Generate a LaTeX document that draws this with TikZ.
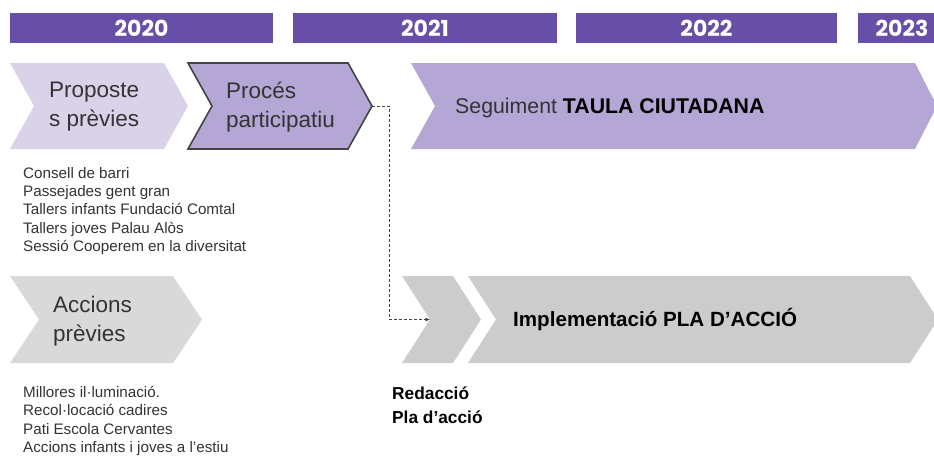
\documentclass[tikz,border=0pt]{standalone}
\usepackage{fontspec}
\setmainfont{Liberation Sans}
\newfontfamily\yearfont{Poppins}
\usepackage{tikz}
\usetikzlibrary{positioning, arrows.meta, calc}
\usepackage{xcolor}

\definecolor{barpurple}{HTML}{674EA7}
\definecolor{lightpurple}{HTML}{D9D2E9}
\definecolor{midpurple}{HTML}{B4A7D6}
\definecolor{lightgrey}{HTML}{D9D9D9}
\definecolor{midgrey}{HTML}{CCCCCC}
\definecolor{edgegrey}{HTML}{434343}
\definecolor{textgrey}{HTML}{333333}

\begin{document}
\begin{tikzpicture}[
    x=1pt, y=-1pt,
    year/.style={fill=barpurple, text=white, minimum height=30pt, inner sep=0pt,
        font=\yearfont\bfseries\fontsize{22}{22}\selectfont},
    phase/.style={anchor=west, align=left, inner sep=0pt, text=textgrey,
        font=\fontsize{22.5}{29}\selectfont},
    notes/.style={anchor=west, align=left, inner sep=0pt, text=textgrey,
        font=\fontsize{15.2}{18.3}\selectfont},
    link/.style={densely dashed, draw=edgegrey, line width=0.7pt,
        -{Latex[length=4.5pt,width=4pt]}}
]
    \useasboundingbox (0,0) rectangle (934,455);

    % Year bars on top
    \node[year, minimum width=263pt] (y2020) at (141.5,28) {2020};
    \node[year, minimum width=264pt] (y2021) at (425,28) {2021};
    \node[year, minimum width=261pt] (y2022) at (706.5,28) {2022};
    \node[year, minimum width=88pt] (y2023) at (902,28) {2023};

    % First row of chevrons
    \fill[lightpurple] (10,63) -- (164,63) -- (188,106) -- (164,149) -- (10,149) -- (34,106) -- cycle;
    \filldraw[fill=midpurple, draw=edgegrey, line width=1.6pt, line join=miter]
        (188,63) -- (348,63) -- (372,106) -- (348,149) -- (188,149) -- (212,106) -- cycle;
    \fill[midpurple] (411,63) -- (915,63) -- (937,106) -- (915,149) -- (411,149) -- (435,106) -- cycle;
    \coordinate (proc-tip) at (372,106);

    % Second row of chevrons
    \fill[lightgrey] (10,276) -- (173,276) -- (202,319.5) -- (173,363) -- (10,363) -- (39,319.5) -- cycle;
    \fill[midgrey] (402,276) -- (453,276) -- (481,319.5) -- (453,363) -- (402,363) -- (430,319.5) -- cycle;
    \fill[midgrey] (468,276) -- (910,276) -- (938,319.5) -- (910,363) -- (468,363) -- (496,319.5) -- cycle;
    \coordinate (red-notch) at (430,319.5);

    % Labels inside the chevrons
    \node[phase] (prop) at (49,107) {Proposte\\s prèvies};
    \node[phase] (proc) at (226,107) {Procés\\participatiu};
    \node[phase, font=\fontsize{21.3}{29}\selectfont] (seg) at (455,108)
        {Seguiment \textbf{\color{black}TAULA CIUTADANA}};
    \node[phase] (acc) at (53,321) {Accions\\prèvies};
    \node[phase, text=black, font=\bfseries\fontsize{20.6}{29}\selectfont] (imp) at (513,320)
        {Implementació PLA D’ACCIÓ};

    % Notes under the chevrons
    \node[notes] (notes1) at (23,211) {Consell de barri\\Passejades gent gran\\Tallers infants Fundació Comtal\\Tallers joves Palau Alòs\\Sessió Cooperem en la diversitat};
    \node[notes] (notes2) at (23,421) {Millores il·luminació.\\Recol·locació cadires\\Pati Escola Cervantes\\Accions infants i joves a l’estiu};
    \node[anchor=west, align=left, inner sep=0pt, text=black,
        font=\bfseries\fontsize{17.3}{24}\selectfont] (red) at (392,405) {Redacció\\Pla d’acció};

    % Dashed link from the process to the action plan
    \draw[link] (proc-tip) -- ++(17,0) |- (red-notch);
\end{tikzpicture}
\end{document}
